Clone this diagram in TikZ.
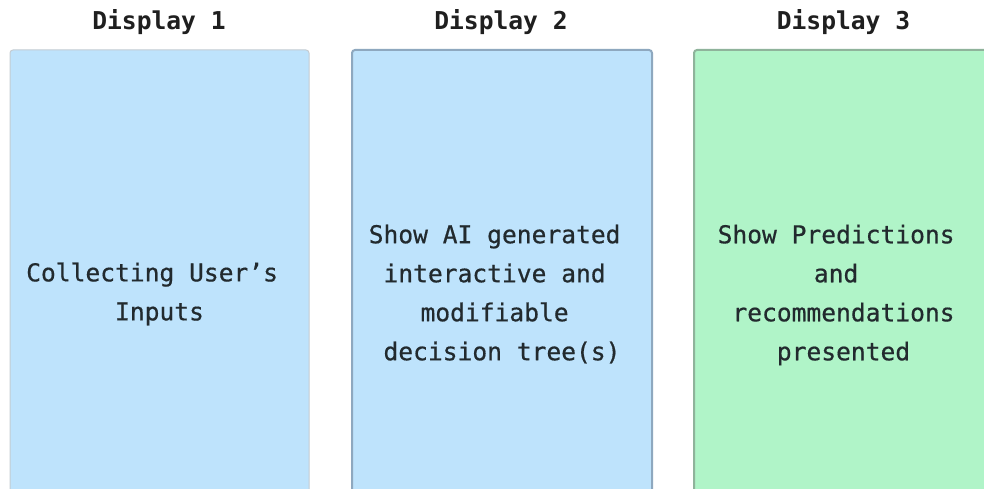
\documentclass[tikz,border=0pt]{standalone}
\usepackage{fontspec}
\newfontfamily\monofont{DejaVu Sans Mono}
\newfontfamily\monobody[FakeBold=0.6]{DejaVu Sans Mono}
\definecolor{bluefill}{HTML}{BEE3FC}
\definecolor{greenfill}{HTML}{B0F4C8}
\definecolor{bordera}{HTML}{C4CCD2}
\definecolor{borderb}{HTML}{8EA8BF}
\definecolor{borderc}{HTML}{8FB39B}
\definecolor{txt}{HTML}{222A2E}
\tikzset{
  panel/.style={rounded corners=3pt},
  title/.style={font=\monofont\bfseries\fontsize{24.6}{30}\selectfont, text=black!88, inner sep=0pt},
  body/.style={font=\monobody\fontsize{24.6}{39}\selectfont, text=txt, align=center, inner sep=0pt}
}
\begin{document}
\begin{tikzpicture}[x=1pt,y=-1pt]
\useasboundingbox (0,0) rectangle (984,489);
\clip (0,0) rectangle (984,489);
\fill[white] (0,0) rectangle (984,489);
% panels
\draw[panel, fill=bluefill, draw=bordera, line width=1pt] (10,50) rectangle (309,520);
\draw[panel, fill=bluefill, draw=borderb, line width=2pt] (352,50) rectangle (652,520);
\draw[panel, fill=greenfill, draw=borderc, line width=2pt] (694,50) rectangle (994,520);
\node[draw=none, minimum width=299pt, minimum height=470pt, anchor=north west] (p1) at (10,50) {};
\node[draw=none, minimum width=300pt, minimum height=470pt, anchor=north west] (p2) at (352,50) {};
\node[draw=none, minimum width=300pt, minimum height=470pt, anchor=north west] (p3) at (694,50) {};
% titles
\node[title] (t1) at (159,22) {Display 1};
\node[title] (t2) at (501,22) {Display 2};
\node[title] (t3) at (843.5,22) {Display 3};
% texts
\node[body] (b1) at (159.5,294) {Collecting User’s\hphantom{x}\\Inputs};
\node[body] (b2) at (502,294) {Show AI generated\hphantom{x}\\interactive and\hphantom{x}\\modifiable\hphantom{x}\\decision tree(s)};
\node[body] (b3) at (843.5,295) {Show Predictions\hphantom{x}\\and\hphantom{x}\\recommendations\\presented};
\end{tikzpicture}
\end{document}
